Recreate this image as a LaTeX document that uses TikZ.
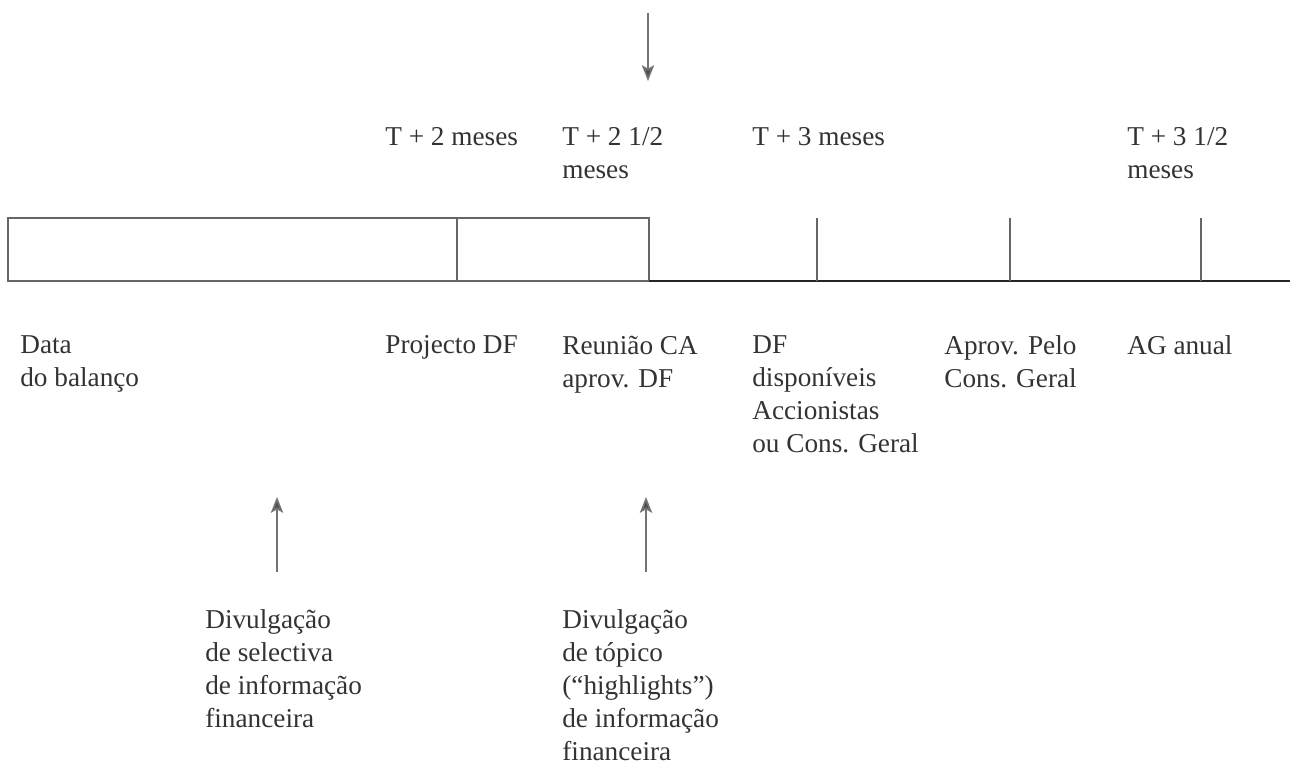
\documentclass[tikz,border=0pt]{standalone}
\usepackage{fontspec}
\setmainfont{Liberation Serif}
\usetikzlibrary{arrows.meta}
\begin{document}
\begin{tikzpicture}[
        txt/.style={anchor=north west, yshift=10.5pt, align=left, inner sep=0pt, text=black!80,
            font=\fontsize{15.5}{18.7}\selectfont},
        arr/.style={draw=black!55, line width=1pt, -{Stealth[length=9pt,width=7pt,inset=2pt,fill=black!70]}},
        bar/.style={draw=black!60, line width=1pt}]
        \useasboundingbox (0,0) rectangle (25.8,15.34);
        % time bar
        \draw[bar] (0.16,9.72) rectangle (12.98,10.98);
        \draw[bar] (9.14,9.72) -- (9.14,10.98);
        \draw[bar, draw=black!85] (12.98,9.72) -- (25.8,9.72);
        \foreach \x in {16.34, 20.2, 24.02}
            \draw[bar] (\x,9.72) -- (\x,10.98);
        % dates above
        \node[txt] (t2) at (7.7,12.42) {T + 2 meses};
        \node[txt] (t25) at (11.24,12.42) {T + 2 1/2\\meses};
        \node[txt] (t3) at (15.04,12.42) {T + 3 meses};
        \node[txt] (t35) at (22.54,12.42) {T + 3 1/2\\meses};
        % events below
        \node[txt] (data) at (0.4,8.26) {Data\\do balanço};
        \node[txt] (proj) at (7.7,8.26) {Projecto DF};
        \node[txt] (reun) at (11.24,8.26) {Reunião CA\\aprov. DF};
        \node[txt] (disp) at (15.04,8.26) {DF\\disponíveis\\Accionistas\\ou Cons. Geral};
        \node[txt] (aprov) at (18.88,8.26) {Aprov. Pelo\\Cons. Geral};
        \node[txt] (ag) at (22.54,8.26) {AG anual};
        % disclosures
        \node[txt] (divsel) at (4.1,2.78) {Divulgação\\de selectiva\\de informação\\financeira};
        \node[txt] (divtop) at (11.24,2.78) {Divulgação\\de tópico\\(“highlights”)\\de informação\\financeira};
        % arrows
        \coordinate (topfrom) at (12.96,15.08);
        \coordinate (topto) at (12.96,13.72);
        \coordinate (selfrom) at (5.54,3.9);
        \coordinate (selto) at (5.54,5.4);
        \coordinate (topicfrom) at (12.92,3.9);
        \coordinate (topicto) at (12.92,5.4);
        \draw[arr] (topfrom) -- (topto);
        \draw[arr] (selfrom) -- (selto);
        \draw[arr] (topicfrom) -- (topicto);
    \end{tikzpicture}
\end{document}
